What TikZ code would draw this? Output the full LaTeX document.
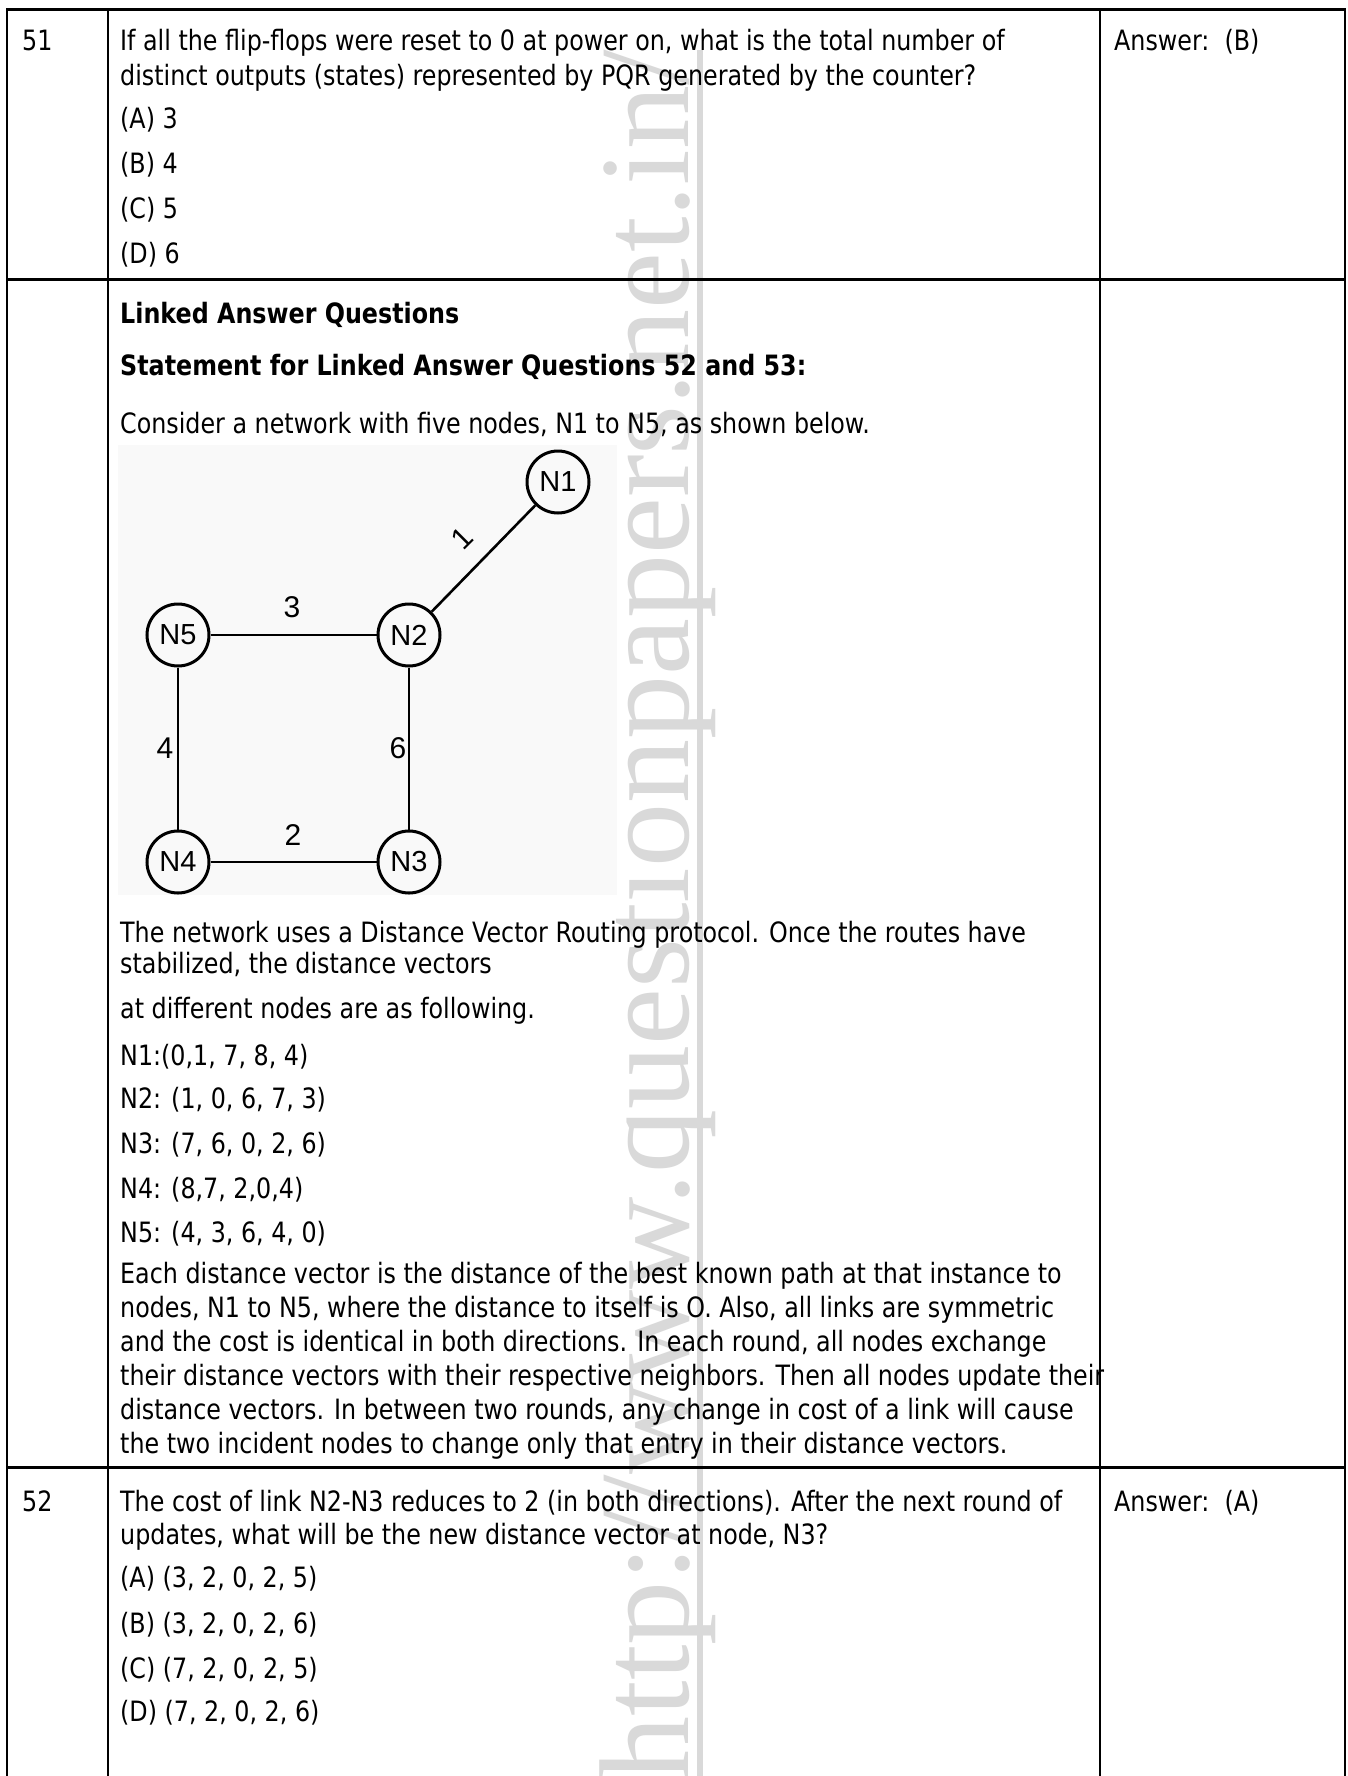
\documentclass[tikz,border=0pt]{standalone}
\usepackage{fontspec}
\setmainfont[FakeStretch=0.85]{DejaVu Sans}
\newfontfamily\graphfont{Liberation Sans}
\newfontfamily\wmfont{Liberation Serif}
\definecolor{wmgray}{HTML}{D9D9D9}
\definecolor{imgbg}{HTML}{F9F9F9}
\begin{document}
\begin{tikzpicture}[x=1bp,y=-1bp,
  txt/.style={anchor=base west, inner sep=0pt, font=\fontsize{28bp}{34bp}\selectfont},
  btxt/.style={anchor=base west, inner sep=0pt, font=\fontsize{28bp}{34bp}\selectfont\bfseries},
  gnode/.style={circle, draw, line width=3bp, minimum size=62bp, inner sep=0pt, font=\graphfont\fontsize{29bp}{30bp}\selectfont},
  glab/.style={inner sep=0pt, font=\graphfont\fontsize{30bp}{30bp}\selectfont},
  gedge/.style={line width=2.6bp},
  hrule/.style={line width=3bp},
  vrule/.style={line width=2.6bp},
  wm/.style={inner sep=0pt, text=wmgray, font=\wmfont\fontsize{128bp}{130bp}\selectfont}
]
\useasboundingbox (0,0) rectangle (1348,1776);
\fill[white] (0,0) rectangle (1348,1776);

% watermark
\node[wm, rotate=90, anchor=base east] (wm) at (688,50) {http://www.questionpapers.net.in/};
\fill[wmgray] (697,50) rectangle (703,1776);

% graph image background
\fill[imgbg] (118,445) rectangle (617,895);

% table rules
\draw[hrule] (6,9) -- (1346,9);
\draw[hrule] (6,279) -- (1346,279);
\draw[hrule] (6,1467) -- (1346,1467);
\draw[vrule] (7,8) -- (7,1776);
\draw[vrule] (108,8) -- (108,1776);
\draw[vrule] (1100,8) -- (1100,1776);
\draw[vrule] (1345,8) -- (1345,1776);

% row 51
\node[txt] (q51) at (22,50) {51};
\node[txt] (q51a) at (120,50) {If all the flip-flops were reset to 0 at power on, what is the total number of};
\node[txt] (q51b) at (120,85) {distinct outputs (states) represented by PQR generated by the counter?};
\node[txt] (q51oA) at (120,128) {(A) 3};
\node[txt] (q51oB) at (120,173) {(B) 4};
\node[txt] (q51oC) at (120,218) {(C) 5};
\node[txt] (q51oD) at (120,263) {(D) 6};
\node[txt] (ans51) at (1114,50) {Answer:\ \ (B)};

% linked statement
\node[btxt] (lh1) at (120,323) {Linked Answer Questions};
\node[btxt] (lh2) at (120,375) {Statement for Linked Answer Questions 52 and 53:};
\node[txt] (lc) at (120,433) {Consider a network with five nodes, N1 to N5, as shown below.};

% graph
\node[gnode] (N1) at (558,482) {N1};
\node[gnode] (N5) at (178,635) {N5};
\node[gnode] (N2) at (409,635) {N2};
\node[gnode] (N4) at (178,862) {N4};
\node[gnode] (N3) at (409,862) {N3};
\draw[gedge] (N2) -- (N1);
\draw[gedge] (N5) -- (N2);
\draw[gedge] (N5) -- (N4);
\draw[gedge] (N2) -- (N3);
\draw[gedge] (N4) -- (N3);
\node[glab, rotate=45] (l1) at (462,538) {1};
\node[glab] (l3) at (292,607) {3};
\node[glab] (l4) at (165,748) {4};
\node[glab] (l6) at (398,748) {6};
\node[glab] (l2) at (293,835) {2};

\node[txt] (p1) at (120,942) {The network uses a Distance Vector Routing protocol. Once the routes have};
\node[txt] (p2) at (120,973) {stabilized, the distance vectors};
\node[txt] (p3) at (120,1018) {at different nodes are as following.};
\node[txt] (v1) at (120,1065) {N1:(0,1, 7, 8, 4)};
\node[txt] (v2) at (120,1108) {N2: (1, 0, 6, 7, 3)};
\node[txt] (v3) at (120,1153) {N3: (7, 6, 0, 2, 6)};
\node[txt] (v4) at (120,1198) {N4: (8,7, 2,0,4)};
\node[txt] (v5) at (120,1242) {N5: (4, 3, 6, 4, 0)};
\node[txt] (e1) at (120,1283) {Each distance vector is the distance of the best known path at that instance to};
\node[txt] (e2) at (120,1317) {nodes, N1 to N5, where the distance to itself is O. Also, all links are symmetric};
\node[txt] (e3) at (120,1351) {and the cost is identical in both directions. In each round, all nodes exchange};
\node[txt] (e4) at (120,1385) {their distance vectors with their respective neighbors. Then all nodes update their};
\node[txt] (e5) at (120,1419) {distance vectors. In between two rounds, any change in cost of a link will cause};
\node[txt] (e6) at (120,1453) {the two incident nodes to change only that entry in their distance vectors.};

% row 52
\node[txt] (q52) at (22,1511) {52};
\node[txt] (q52a) at (120,1511) {The cost of link N2-N3 reduces to 2 (in both directions). After the next round of};
\node[txt] (q52b) at (120,1544) {updates, what will be the new distance vector at node, N3?};
\node[txt] (q52oA) at (120,1587) {(A) (3, 2, 0, 2, 5)};
\node[txt] (q52oB) at (120,1633) {(B) (3, 2, 0, 2, 6)};
\node[txt] (q52oC) at (120,1678) {(C) (7, 2, 0, 2, 5)};
\node[txt] (q52oD) at (120,1721) {(D) (7, 2, 0, 2, 6)};
\node[txt] (ans52) at (1114,1511) {Answer:\ \ (A)};
\end{tikzpicture}
\end{document}
